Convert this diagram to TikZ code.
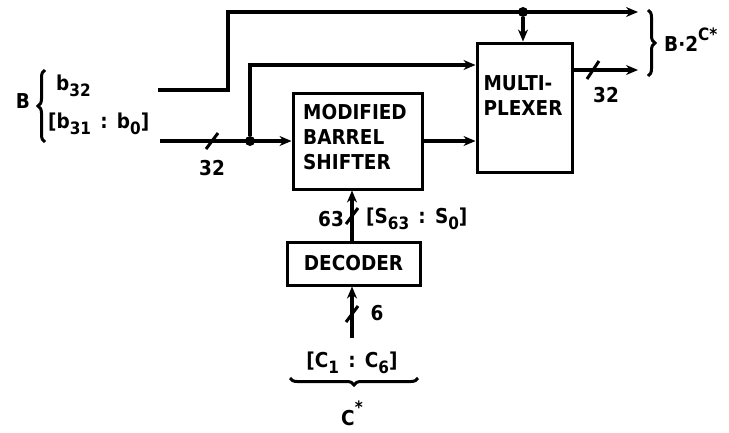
\documentclass[tikz,border=0pt]{standalone}
\usepackage{fontspec}
\setmainfont{DejaVu Sans Condensed}
\usetikzlibrary{arrows.meta,decorations.pathreplacing}
\newcommand{\lsub}[1]{\raisebox{-0.55ex}{\fontsize{17}{17}\selectfont #1}}
\newcommand{\lsup}[1]{\raisebox{1.0ex}{\fontsize{17}{17}\selectfont #1}}
\newcommand{\lcol}{\hspace{0.45em}:\hspace{0.45em}}
\begin{document}
\begin{tikzpicture}[x=1pt,y=-1pt,
  wire/.style={line width=3.4pt},
  arr/.style={wire,-{Stealth[length=12pt,width=10pt]}},
  blk/.style={draw,line width=3pt,inner sep=0pt},
  txt/.style={font=\fontsize{20.5}{25}\selectfont\bfseries,inner sep=0pt},
  jdot/.style={circle,fill,inner sep=0pt,minimum size=10pt},
  slash/.style={line width=3pt},
  brc/.style={line width=3pt,decorate,decoration={brace,amplitude=7pt}}]
\useasboundingbox (0,0) rectangle (729,432);
% blocks
\node[blk,minimum width=129pt,minimum height=96pt] (shf) at (357.5,141) {};
\node[txt,align=left,anchor=north west] (shft) at (303,104) {MODIFIED\\BARREL\\SHIFTER};
\node[blk,minimum width=95pt,minimum height=129pt] (mux) at (524.5,107.5) {};
\node[txt,align=left] (muxt) at (523,96) {MULTI-\\PLEXER};
\node[blk,minimum width=133pt,minimum height=43pt,txt] (dec) at (353.5,263.5) {DECODER};
% coordinates
\coordinate (b32s) at (158,90);
\coordinate (bs) at (160,141);
\coordinate (top1) at (228,90);
\coordinate (top2) at (228,12);
\coordinate (topend) at (638,12);
\coordinate (j1) at (250,141);
\coordinate (j1t) at (250,65);
\coordinate (j2) at (523,12);
\coordinate (oute) at (638,70);
\coordinate (cin) at (352,338);
% wires
\draw[arr] (b32s) -- (top1) -- (top2) -- (topend);
\node[jdot] (d2) at (j2) {};
\draw[arr] (d2) -- (d2 |- mux.north);
\draw[arr] (bs) -- (shf.west);
\node[jdot] (d1) at (j1) {};
\draw[arr] (d1) -- (j1t) -- (j1t -| mux.west);
\draw[arr] (shf.east) -- (shf.east -| mux.west);
\draw[arr] (mux.east |- oute) -- (oute);
\draw[arr] (dec.north -| 352,0) -- (352,0 |- shf.south);
\draw[arr] (cin) -- (cin |- dec.south);
% slashes
\draw[slash] (206,149) -- (218,133);
\draw[slash] (587,79) -- (599,61);
\draw[slash] (346,224) -- (358,208);
\draw[slash] (346,322) -- (358,306);
% labels
\node[txt] (l32a) at (212,168) {32};
\node[txt] (l32b) at (606,95) {32};
\node[txt] (l63) at (331,219) {63};
\node[txt,anchor=west] (ls) at (366,219) {[S\lsub{63}\lcol S\lsub{0}]};
\node[txt] (l6) at (377,313) {6};
\node[txt] (lc) at (352,363) {[C\lsub{1}\lcol C\lsub{6}]};
\node[txt] (lB) at (23,101) {B};
\node[txt,anchor=west] (lb32) at (56,86) {b\lsub{32}};
\node[txt,anchor=west] (lb31) at (48,124) {[b\lsub{31}\lcol b\lsub{0}]};
\node[txt,anchor=west] (lout) at (664,40) {B·2\lsup{C*}};
\node[txt,anchor=base] (lcs) at (352,425) {C\lsup{*}};
% braces
\draw[brc] (45,142) -- (45,70);
\draw[brc] (648,10) -- (648,76);
\draw[brc] (418,378) -- (290,378);
\end{tikzpicture}
\end{document}
